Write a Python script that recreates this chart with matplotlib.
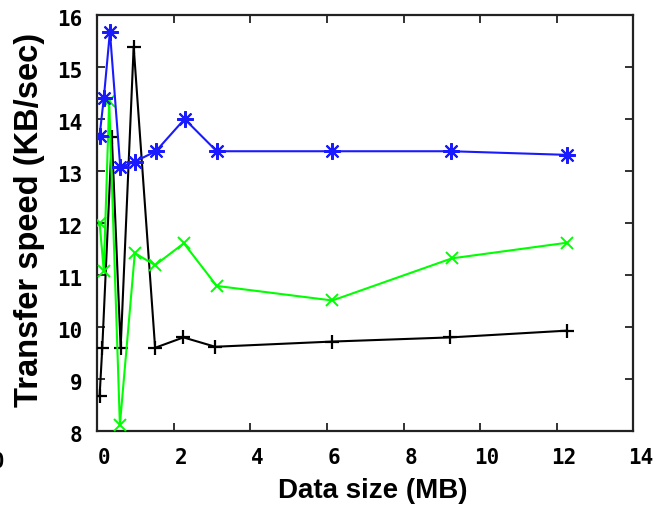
import matplotlib
matplotlib.use("Agg")
import matplotlib.pyplot as plt
import matplotlib.transforms as mtransforms

# ---- data ----
x_blue = [0.06, 0.17, 0.33, 0.60, 0.98, 1.53, 2.28, 3.12, 6.14, 9.25, 12.27]
y_blue = [13.68, 14.40, 15.68, 13.07, 13.18, 13.38, 14.00, 13.38, 13.38, 13.38, 13.31]

x_green = [0.06, 0.17, 0.31, 0.59, 0.98, 1.51, 2.26, 3.12, 6.14, 9.26, 12.26]
y_green = [12.00, 11.08, 14.35, 8.12, 11.42, 11.19, 11.61, 10.79, 10.51, 11.32, 11.62]

x_black = [0.06, 0.13, 0.38, 0.61, 0.95, 1.51, 2.25, 3.08, 6.14, 9.22, 12.27]
y_black = [8.67, 9.60, 13.65, 9.60, 15.39, 9.60, 9.80, 9.62, 9.72, 9.80, 9.93]

x_ticks = [0, 2, 4, 6, 8, 10, 12, 14]
y_ticks = [8, 9, 10, 11, 12, 13, 14, 15, 16]
x_label = "Data size (MB)"
y_label = "Transfer speed (KB/sec)"

W, H, DPI = 658, 509, 100
fig = plt.figure(figsize=(W / DPI, H / DPI), dpi=DPI)
left, right, top, bottom = 97.3, 633.3, 15, 431
ax = fig.add_axes([left / W, 1 - bottom / H, (right - left) / W, (bottom - top) / H])

ax.plot(x_black, y_black, color="#000000", lw=1.5, marker="+", ms=10, mew=1.6, zorder=3)
ax.plot(x_green, y_green, color="#00ff00", lw=1.5, marker="x", ms=9, mew=1.4, zorder=4)
ax.plot(x_blue, y_blue, color="#1a1aff", lw=1.5, marker=(8, 2, 0), ms=12, mew=1.5, zorder=5)

ax.set_xlim(0, 14)
ax.set_ylim(8, 16)
ax.set_xticks(x_ticks)
ax.set_yticks(y_ticks)

for s in ax.spines.values():
    s.set_linewidth(1.6)
    s.set_color("#222222")

ax.tick_params(direction="in", length=6, width=1.3, color="#222222",
               top=True, right=True, labelsize=15)
ax.tick_params(axis="x", pad=12)
ax.tick_params(axis="y", pad=11)

tickfont = "DejaVu Sans Mono"
for lab in ax.get_xticklabels():
    lab.set_fontfamily(tickfont)
    lab.set_fontweight("bold")
    lab.set_transform(lab.get_transform() + mtransforms.ScaledTranslation(7 / DPI, 0, fig.dpi_scale_trans))
for lab in ax.get_yticklabels():
    lab.set_fontfamily(tickfont)
    lab.set_fontweight("bold")
    lab.set_transform(lab.get_transform() + mtransforms.ScaledTranslation(0, -3 / DPI, fig.dpi_scale_trans))

ax.set_xlabel(x_label, fontsize=20, fontweight="bold", family="Liberation Sans", va="center", ha="center")
ax.xaxis.set_label_coords((373 - left) / (right - left), (bottom - 491) / (bottom - top))
ax.set_ylabel(y_label, fontsize=23.5, fontweight="bold", family="Liberation Sans", va="center", ha="center")
ax.yaxis.set_label_coords((30 - left) / (right - left), (bottom - 220) / (bottom - top))

# stray "0" at the far left edge of the reference (partly cut off there too)
fig.text(-2 / W, 1 - 462 / H, "0", fontsize=15, fontweight="bold", family=tickfont,
         ha="center", va="center")

fig.savefig("out.png", dpi=DPI)
